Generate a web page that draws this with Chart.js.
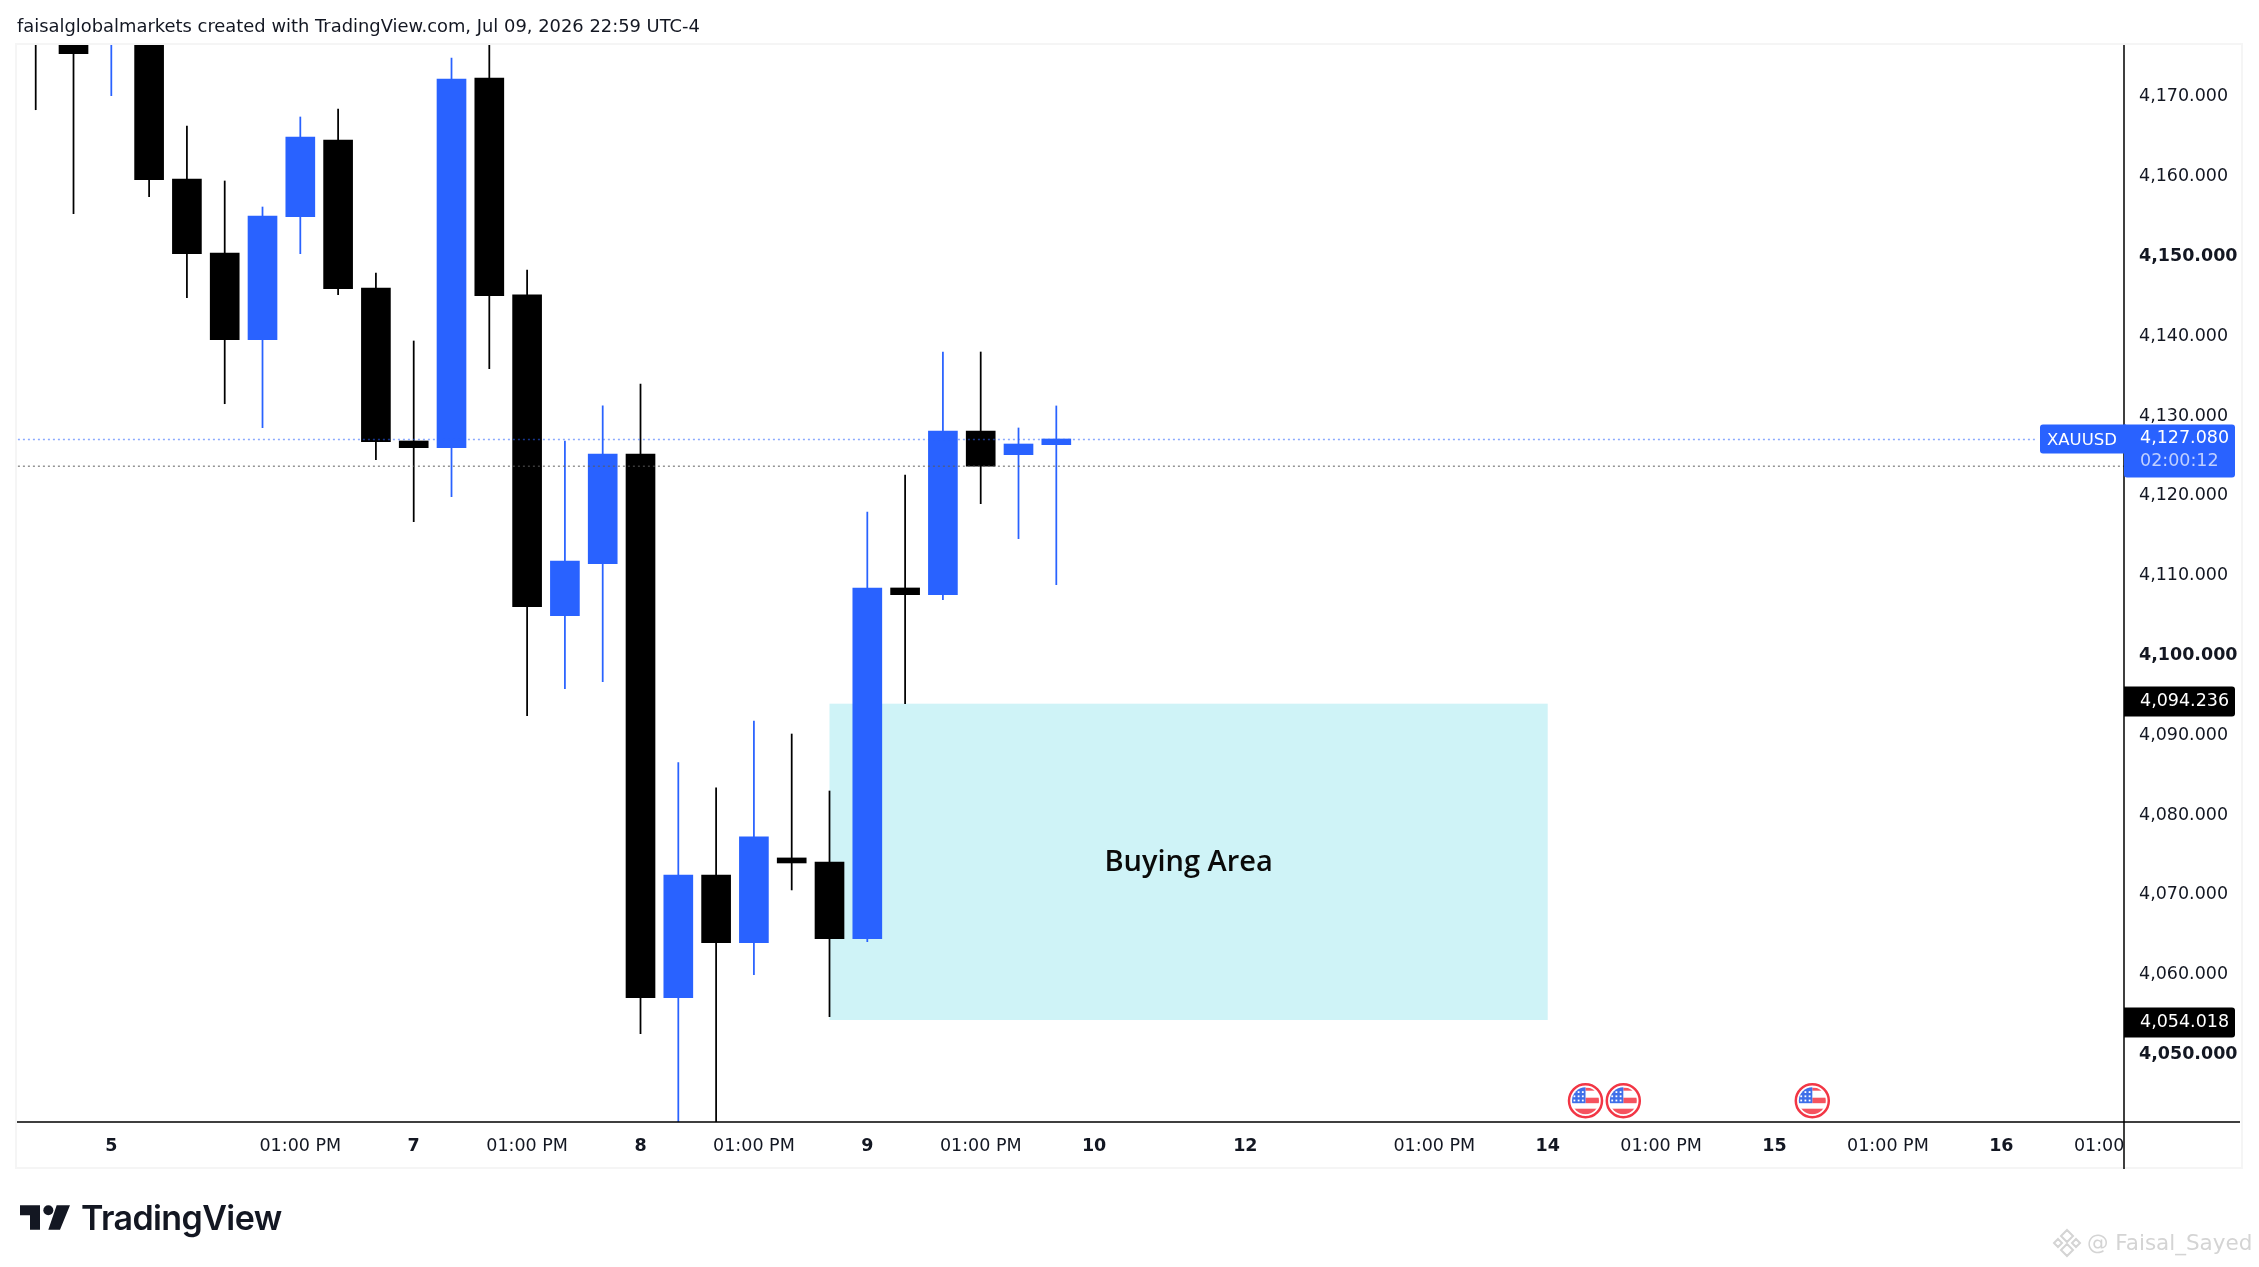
<!DOCTYPE html>
<html>
<head>
<meta charset="utf-8">
<title>XAUUSD</title>
<script src="https://cdn.jsdelivr.net/npm/chart.js@4/dist/chart.umd.min.js"></script>
<style>
  html, body { margin: 0; padding: 0; background: #fff; }
  #wrap { position: relative; width: 2259px; height: 1267px; overflow: hidden; }
  canvas { position: absolute; left: 0; top: 0; }
  .txt { position: absolute; white-space: nowrap; }
  #header { left: 17px; top: 15px; font: 17.9px "DejaVu Sans"; color: #131722; }
  #brand { left: 81px; top: 1197px; font: 600 34px Inter; color: #131722; letter-spacing: -0.6px; }
  #mark { left: 2087px; top: 1230px; font: 21.5px "DejaVu Sans"; color: #d4d4d4; }
  svg { position: absolute; }
</style>
</head>
<body>
<div id="wrap">
  <canvas id="chart" width="2259" height="1267"></canvas>
  <div class="txt" id="header">faisalglobalmarkets created with TradingView.com, Jul 09, 2026 22:59 UTC-4</div>
  <svg style="left:20px;top:1205px" width="50" height="25" viewBox="0 0 150 73">
    <path d="M0 0H60V73H30V30H0Z M110 0H150L120 73H85Z" fill="#131722"/>
    <circle cx="85" cy="15" r="15" fill="#131722"/>
  </svg>
  <div class="txt" id="brand">TradingView</div>
  <svg style="left:2052px;top:1228px" width="30" height="30" viewBox="0 0 30 30" fill="none" stroke="#d4d4d4" stroke-width="2">
    <path d="M15 2L21 8L15 14L9 8Z M15 16L21 22L15 28L9 22Z M6 11L10 15L6 19L2 15Z M24 11L28 15L24 19L20 15Z"/>
  </svg>
  <div class="txt" id="mark">@ Faisal_Sayed</div>
</div>
<script>
// candles, one entry per bar, prices
// (bars whose top runs past the chart are estimates above the visible range)
const opens = [4182, 4180, 4177.5, 4180, 4159.71, 4150.44, 4139.57, 4154.99, 4164.6, 4146.05, 4126.88, 4126.04, 4172.37, 4145.18,
  4104.99, 4111.5, 4125.25, 4057.12, 4072.49, 4064.01, 4074.63, 4074.12, 4064.51, 4108.46, 4107.62, 4128.13, 4125.16, 4126.42];
const highs = [4184, 4186, 4183, 4183, 4166.35, 4159.46, 4156.2, 4167.48, 4168.48, 4147.93, 4139.41, 4174.87, 4180, 4148.31,
  4126.88, 4131.27, 4134.02, 4086.57, 4083.4, 4091.79, 4090.16, 4083.02, 4117.98, 4122.62, 4138.03, 4138.03, 4128.51, 4131.27];
const lows = [4168.39, 4155.36, 4170.15, 4157.49, 4144.84, 4131.55, 4128.55, 4150.35, 4145.21, 4124.54, 4116.77, 4119.9, 4135.94, 4092.46,
  4095.84, 4096.72, 4052.61, 4038, 4035, 4060, 4070.62, 4054.74, 4064.14, 4093.96, 4106.99, 4119.02, 4114.64, 4108.87];
const closes = [4178, 4175.41, 4181, 4159.62, 4150.35, 4139.57, 4155.07, 4164.97, 4145.96, 4126.79, 4126.04, 4172.24, 4145.09, 4106.12,
  4111.84, 4125.25, 4057.12, 4072.49, 4064.01, 4077.26, 4074, 4064.51, 4108.46, 4107.62, 4128.13, 4123.71, 4126.5, 4127.13];

const priceTicks = [4170, 4160, 4150, 4140, 4130, 4120, 4110, 4100, 4090, 4080, 4070, 4060, 4050];
const boldPriceTicks = [4150, 4100, 4050];
const timeTickBars = [2, 7, 10, 13, 16, 19, 22, 25, 28, 32, 37, 40, 43, 46, 49, 52, 55];
const timeTickLabels = ["5", "01:00 PM", "7", "01:00 PM", "8", "01:00 PM", "9", "01:00 PM", "10", "12", "01:00 PM", "14", "01:00 PM", "15", "01:00 PM", "16", "01:00 PM"];

const lastPrice = 4127.08;
const prevClose = 4123.71;
const countdown = "02:00:12";
const symbol = "XAUUSD";
const zoneBars = [21, 40];
const zonePrices = [4093.96, 4054.32];
const zoneLabels = [4094.236, 4054.018];
const zoneTitle = "Buying Area";
const eventBars = [41, 42, 47];

const BLUE = "#2962ff";
const BLACK = "#000000";
const AXIS_FONT = '"DejaVu Sans"';

const barColors = closes.map((c, i) => (c >= opens[i] ? BLUE : BLACK));
const money = (v) => v.toLocaleString("en-US", { minimumFractionDigits: 3, maximumFractionDigits: 3 });

function roundBox(ctx, x, y, w, h, r, color) {
  ctx.fillStyle = color;
  ctx.beginPath();
  ctx.roundRect(x, y, w, h, r);
  ctx.fill();
}

// US flag news marker
function drawFlag(ctx, cx, cy) {
  ctx.save();
  ctx.beginPath();
  ctx.arc(cx, cy, 16.5, 0, Math.PI * 2);
  ctx.fillStyle = "#fff";
  ctx.fill();
  ctx.lineWidth = 2.5;
  ctx.strokeStyle = "#f23645";
  ctx.stroke();
  ctx.beginPath();
  ctx.arc(cx, cy, 13.5, 0, Math.PI * 2);
  ctx.clip();
  ctx.fillStyle = "#f5535f";
  ctx.fillRect(cx, cy - 3, 15, 5.5);
  ctx.fillRect(cx - 15, cy + 8, 30, 6);
  ctx.fillRect(cx, cy - 13, 15, 3);
  ctx.fillStyle = "#3f6fe8";
  ctx.fillRect(cx - 15, cy - 15, 15, 17.5);
  ctx.fillStyle = "#fff";
  for (let row = 0; row < 3; row++) {
    for (let col = 0; col < 3; col++) {
      ctx.fillRect(cx - 12 + col * 4.2, cy - 9.5 + row * 4.2, 1.8, 1.8);
    }
  }
  ctx.restore();
}

const chromePlugin = {
  id: "chrome",
  beforeDraw(chart) {
    const ctx = chart.ctx;
    ctx.save();
    ctx.strokeStyle = "#f5f5f5";
    ctx.lineWidth = 2;
    ctx.strokeRect(16, 44, 2226, 1124);
    ctx.restore();
  },
  beforeDatasetsDraw(chart) {
    const { ctx, scales: { x, y } } = chart;
    const left = x.getPixelForValue(zoneBars[0]);
    const right = x.getPixelForValue(zoneBars[1]);
    const top = y.getPixelForValue(zonePrices[0]);
    const bottom = y.getPixelForValue(zonePrices[1]);
    ctx.save();
    ctx.fillStyle = "#cff3f7";
    ctx.fillRect(left, top, right - left, bottom - top);
    ctx.fillStyle = "#0a0a0a";
    ctx.font = '600 29px "Open Sans"';
    ctx.textAlign = "center";
    ctx.textBaseline = "middle";
    ctx.fillText(zoneTitle, (left + right) / 2, (top + bottom) / 2 + 1);
    ctx.restore();
  },
  afterDraw(chart) {
    const { ctx, chartArea, scales: { x, y } } = chart;
    ctx.save();
    // the last time label is cut off by the price scale
    ctx.fillStyle = "#fff";
    ctx.fillRect(chartArea.right, chartArea.bottom + 1, 117, 44);

    ctx.strokeStyle = "#000";
    ctx.lineWidth = 1.5;
    ctx.beginPath();
    ctx.moveTo(chartArea.left, chartArea.bottom);
    ctx.lineTo(2240, chartArea.bottom);
    ctx.moveTo(chartArea.right, chartArea.top);
    ctx.lineTo(chartArea.right, 1169);
    ctx.stroke();

    eventBars.forEach((b) => drawFlag(ctx, x.getPixelForValue(b), 1100.7));

    ctx.textBaseline = "middle";
    const py = y.getPixelForValue(lastPrice);
    ctx.fillStyle = "#fff";
    ctx.fillRect(chartArea.right - 87, py - 3, 3, 6);
    roundBox(ctx, chartArea.right - 84, py - 15, 86, 29, [3, 0, 0, 3], BLUE);
    roundBox(ctx, chartArea.right, py - 15, 111, 53, [0, 3, 3, 3], BLUE);
    ctx.fillStyle = "#fff";
    ctx.font = "16.5px " + AXIS_FONT;
    ctx.fillText(symbol, chartArea.right - 77, py + 1);
    ctx.font = "17.5px " + AXIS_FONT;
    ctx.fillText(money(lastPrice), 2140, py - 1);
    ctx.fillStyle = "#c0d0ff";
    ctx.fillText(countdown, 2140, py + 22);

    zoneLabels.forEach((v) => {
      const ly = y.getPixelForValue(v);
      roundBox(ctx, chartArea.right, ly - 15, 111, 30, [0, 3, 3, 0], BLACK);
      ctx.fillStyle = "#fff";
      ctx.fillText(money(v), 2140, ly);
    });
    ctx.restore();
  },
};

new Chart(document.getElementById("chart"), {
  data: {
    datasets: [
      {
        type: "line",
        order: 0,
        data: [{ x: -1, y: lastPrice }, { x: 56, y: lastPrice }],
        borderColor: "rgba(41,98,255,0.55)",
        borderWidth: 1.5,
        borderDash: [2, 3],
        pointRadius: 0,
      },
      {
        type: "line",
        order: 0,
        data: [{ x: -1, y: prevClose }, { x: 56, y: prevClose }],
        borderColor: "rgba(90,90,90,0.65)",
        borderWidth: 1.5,
        borderDash: [2, 3],
        pointRadius: 0,
      },
      {
        type: "bar",
        order: 1,
        grouped: false,
        barThickness: 29,
        backgroundColor: barColors,
        data: opens.map((o, i) => ({ x: i, y: [o, closes[i]] })),
      },
      {
        type: "bar",
        order: 2,
        grouped: false,
        barThickness: 1.1,
        backgroundColor: barColors,
        data: highs.map((h, i) => ({ x: i, y: [lows[i], h] })),
      },
    ],
  },
  options: {
    responsive: false,
    animation: false,
    devicePixelRatio: 1,
    events: [],
    layout: { padding: { left: 17, top: 45, right: 0, bottom: 0 } },
    plugins: { legend: { display: false }, tooltip: { enabled: false } },
    scales: {
      x: {
        type: "linear",
        offset: false,
        min: -0.495,
        max: 55.246,
        grid: { display: false, drawTicks: false, offset: false },
        border: { display: false },
        afterFit(scale) { scale.height = 145; },
        afterBuildTicks(scale) { scale.ticks = timeTickBars.map((v) => ({ value: v })); },
        ticks: {
          autoSkip: false,
          maxRotation: 0,
          padding: 14,
          color: "#131722",
          font: (c) => ({
            family: AXIS_FONT,
            size: 17.5,
            weight: c.tick && timeTickLabels[timeTickBars.indexOf(c.tick.value)].includes(":") ? "normal" : "bold",
          }),
          callback: (v) => timeTickLabels[timeTickBars.indexOf(v)],
        },
      },
      y: {
        position: "right",
        min: 4041.54,
        max: 4176.5,
        grid: { display: false, drawTicks: false },
        border: { display: false },
        afterFit(scale) { scale.width = 135; },
        afterBuildTicks(scale) { scale.ticks = priceTicks.map((v) => ({ value: v })); },
        ticks: {
          autoSkip: false,
          padding: 15,
          color: "#131722",
          font: (c) => ({
            family: AXIS_FONT,
            size: 17.5,
            weight: c.tick && boldPriceTicks.includes(c.tick.value) ? "bold" : "normal",
          }),
          callback: (v) => money(v),
        },
      },
    },
  },
  plugins: [chromePlugin],
});
</script>
</body>
</html>
